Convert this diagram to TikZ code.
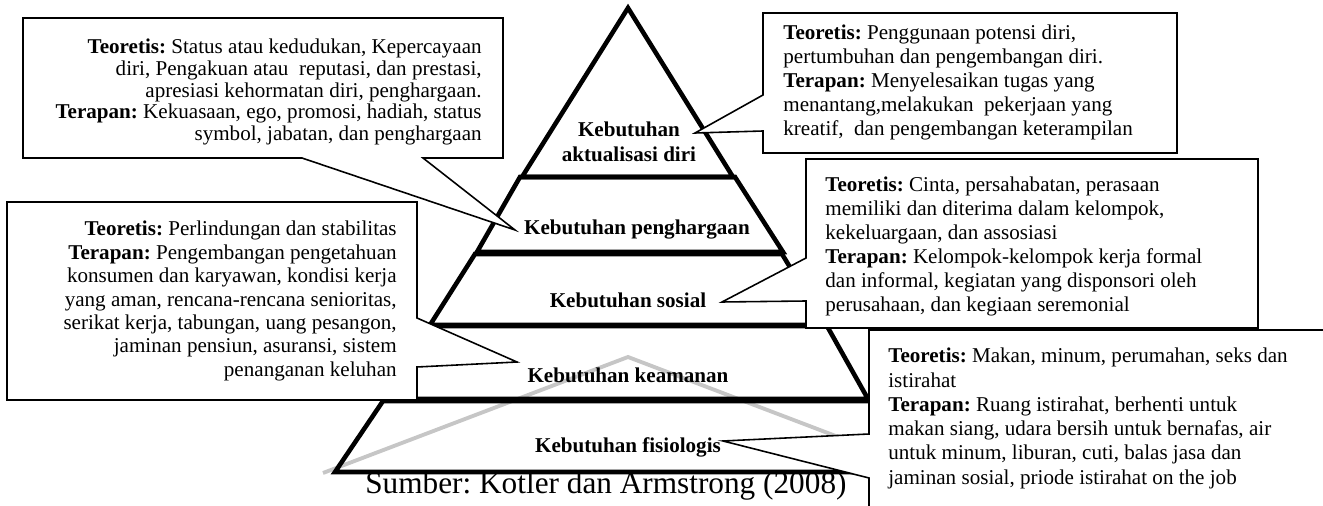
\documentclass[tikz,border=0pt]{standalone}
\usepackage{fontspec}
\setmainfont{Liberation Serif}
\frenchspacing
\begin{document}
\begin{tikzpicture}[x=0.02cm,y=-0.02cm,
  level/.style={line width=2.6pt,line join=miter},
  callout/.style={draw,fill=white,line width=0.9pt,line join=miter},
  info/.style={inner sep=0pt,font=\fontsize{12}{13.6}\selectfont},
  tier/.style={inner sep=0pt,font=\fontsize{12}{14.2}\selectfont\bfseries,align=center}]
\useasboundingbox (0,0) rectangle (1323,506);
\draw[gray!45,line width=2.2pt] (323,473) -- (628,357) -- (933,473);
\draw[level] (628,8) -- (733,177) -- (522,177) -- cycle;
\draw[level] (520,177) -- (735,177) -- (783,252) -- (477,252) -- cycle;
\draw[level] (475,254) -- (782,254) -- (825,325) -- (430,325) -- cycle;
\draw[level] (430,326) -- (827,326) -- (868,399) -- (388,399) -- cycle;
\draw[level] (383,401) -- (870,401) -- (913,472) -- (335,472) -- cycle;
\node[tier] (t1) at (629,142) {Kebutuhan\\aktualisasi diri};
\node[tier] (t2) at (637,230) {Kebutuhan penghargaan};
\node[tier] (t3) at (628,300) {Kebutuhan sosial};
\node[tier] (t4) at (628,375) {Kebutuhan keamanan};
\node[tier] (t5) at (628,447) {Kebutuhan fisiologis};
\node[inner sep=0pt,font=\fontsize{17.8}{20}\selectfont,anchor=west] (src) at (365,486) {Sumber: Kotler dan Armstrong (2008)};
\draw[callout] (23,18) -- (503,18) -- (503,158) -- (423,158) -- (515,230) -- (302,158) -- (23,158) -- cycle;
\draw[callout] (763,13) -- (1177,13) -- (1177,153) -- (763,153) -- (763,131) -- (695,133) -- (763,95) -- cycle;
\draw[callout] (806,159) -- (1258,159) -- (1258,328) -- (806,328) -- (806,301) -- (722,302) -- (806,258) -- cycle;
\draw[callout] (7,202) -- (417,202) -- (417,318) -- (517,362) -- (417,367) -- (417,400) -- (7,400) -- cycle;
\draw[callout] (869,330) -- (1340,330) -- (1340,520) -- (869,520) -- (869,478) -- (723,441) -- (869,434) -- cycle;
\node[info,font=\fontsize{12}{12.3}\selectfont,align=right,anchor=north east] (harga) at (482,39)
  {\textbf{Teoretis:} Status atau kedudukan, Kepercayaan\\diri, Pengakuan atau~ reputasi, dan prestasi,\\apresiasi kehormatan diri, penghargaan.\\\textbf{Terapan:} Kekuasaan, ego, promosi, hadiah, status\\symbol, jabatan, dan penghargaan};
\node[info,align=left,anchor=north west] (aktual) at (783,25)
  {\textbf{Teoretis:} Penggunaan potensi diri,\\pertumbuhan dan pengembangan diri.\\\textbf{Terapan:} Menyelesaikan tugas yang\\menantang,melakukan~ pekerjaan yang\\kreatif,~ dan pengembangan keterampilan};
\node[info,align=left,anchor=north west] (sosial) at (825,177)
  {\textbf{Teoretis:} Cinta, persahabatan, perasaan\\memiliki dan diterima dalam kelompok,\\kekeluargaan, dan assosiasi\\\textbf{Terapan:} Kelompok-kelompok kerja formal\\dan informal, kegiatan yang disponsori oleh\\perusahaan, dan kegiaan seremonial};
\node[info,font=\fontsize{12}{13.3}\selectfont,align=right,anchor=north east] (aman) at (397,221)
  {\textbf{Teoretis:} Perlindungan dan stabilitas\\\textbf{Terapan:} Pengembangan pengetahuan\\konsumen dan karyawan, kondisi kerja\\yang aman, rencana-rencana senioritas,\\serikat kerja, tabungan, uang pesangon,\\jaminan pensiun, asuransi, sistem\\penanganan keluhan};
\node[info,font=\fontsize{12}{13.8}\selectfont,align=left,anchor=north west] (fisio) at (888,348)
  {\textbf{Teoretis:} Makan, minum, perumahan, seks dan\\istirahat\\\textbf{Terapan:} Ruang istirahat, berhenti untuk\\makan siang, udara bersih untuk bernafas, air\\untuk minum, liburan, cuti, balas jasa dan\\jaminan sosial, priode istirahat on the job};
\end{tikzpicture}
\end{document}
